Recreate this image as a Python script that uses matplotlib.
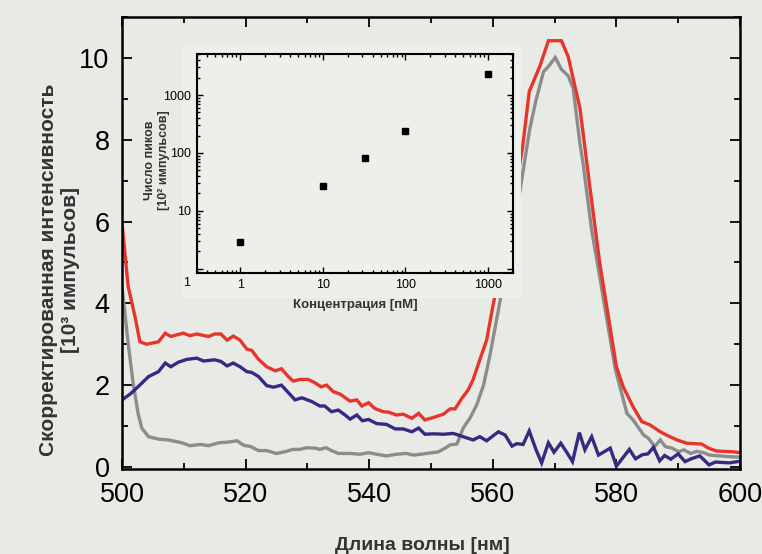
import matplotlib
matplotlib.use("Agg")
import matplotlib.pyplot as plt
from matplotlib.patches import Rectangle
from matplotlib.ticker import MultipleLocator, LogLocator, NullFormatter

plt.rcParams['font.family'] = ['Liberation Sans', 'DejaVu Sans']

# спектры (нм, 10^3 импульсов)
wl_red = [500, 501, 502.1, 502.9, 504, 505.9, 507, 507.9, 509.9, 511, 512.1, 514, 515, 516, 517, 518,
          519.1, 520.2, 521, 522.1, 523.4, 524.8, 525.8, 526.9, 527.7, 528.8, 530.1, 531.2, 532.2, 533.1,
          534.2, 535.3, 536.9, 538, 538.8, 539.9, 540.9, 542.3, 543.1, 544.4, 545.5, 546.9, 548, 549,
          550.4, 552, 553.1, 553.9, 555, 556, 556.8, 557.9, 559, 559.8, 561, 562, 563, 564, 564.8, 565.9,
          567.6, 569, 571.1, 572.2, 574.1, 575.7, 577.3, 580, 581.1, 582.7, 584.1, 585.4, 587.1, 588.1,
          589.8, 591.4, 593.8, 594.9, 596.2, 598.9, 600]
int_red = [5.96, 4.41, 3.68, 3.06, 3.0, 3.06, 3.27, 3.19, 3.27, 3.21, 3.25, 3.19, 3.25, 3.25, 3.1, 3.2,
           3.1, 2.88, 2.85, 2.63, 2.45, 2.35, 2.4, 2.21, 2.1, 2.14, 2.14, 2.06, 1.96, 2.0,
           1.84, 1.78, 1.61, 1.64, 1.49, 1.57, 1.43, 1.35, 1.34, 1.27, 1.29, 1.19, 1.31, 1.15,
           1.21, 1.29, 1.42, 1.42, 1.68, 1.88, 2.13, 2.62, 3.1, 3.76, 4.7, 5.5, 6.3, 7.1, 7.79, 9.18,
           9.79, 10.42, 10.42, 10.03, 8.77, 6.85, 4.99, 2.45, 1.96, 1.47, 1.11, 1.03, 0.86, 0.78,
           0.66, 0.58, 0.56, 0.46, 0.39, 0.37, 0.35]

wl_blue = [500, 501.3, 502.6, 504.3, 505.9, 507, 507.9, 509.1, 510.5, 512.1, 513.2, 515, 516, 517, 518,
           519.1, 520.2, 521, 522.1, 523.4, 524.5, 525.8, 526.9, 528, 529.1, 530.7, 532, 532.8, 533.9,
           535, 536.1, 536.9, 538, 538.9, 539.9, 541.2, 542.8, 544.2, 545.5, 546.9, 548, 549, 550.4,
           552, 553.6, 555.2, 556.8, 557.9, 559, 560.9, 562, 563.1, 563.9, 564.9, 565.9, 567, 567.9,
           569, 569.9, 571, 572, 572.9, 574, 574.9, 576, 577.1, 579, 580, 582.1, 583.1, 584.2, 585.1,
           586, 587, 587.8, 588.8, 590, 591.1, 592.1, 593.5, 595, 596, 598.3, 600]
int_blue = [1.64, 1.78, 1.96, 2.21, 2.33, 2.54, 2.45, 2.56, 2.63, 2.66, 2.59, 2.62, 2.58, 2.47, 2.54,
            2.45, 2.33, 2.31, 2.21, 1.99, 1.95, 2.0, 1.82, 1.64, 1.69, 1.6, 1.49, 1.49, 1.35,
            1.39, 1.27, 1.17, 1.27, 1.13, 1.16, 1.06, 1.04, 0.93, 0.93, 0.86, 0.95, 0.8, 0.81,
            0.8, 0.82, 0.74, 0.66, 0.74, 0.64, 0.86, 0.78, 0.51, 0.57, 0.55, 0.88, 0.42, 0.1,
            0.59, 0.36, 0.58, 0.35, 0.13, 0.84, 0.42, 0.74, 0.29, 0.46, 0.02, 0.43, 0.2, 0.3, 0.32,
            0.48, 0.15, 0.28, 0.19, 0.32, 0.13, 0.2, 0.27, 0.05, 0.12, 0.1, 0.14]

wl_gray = [500, 501, 501.8, 502.6, 503.2, 504.3, 505.9, 507.5, 509.7, 511, 512.7, 514, 515.6, 517.3,
           518.6, 519.7, 520.8, 522.1, 523.4, 525, 526.3, 527.7, 528.8, 529.9, 531.2, 532, 533, 533.9,
           535, 536.9, 538.5, 539.9, 541.2, 542.8, 544.4, 546, 547.2, 548.8, 551.2, 552.3, 553.1, 554.2,
           555.2, 556.3, 557.4, 558.5, 559.5, 560.6, 561.2, 562.5, 563.7, 564.8, 566, 567, 568.2, 569,
           570.1, 571.1, 572.2, 573, 574.1, 574.6, 576, 577.3, 579.8, 581.7, 582.7, 584.4, 585.2, 586.2,
           587.1, 587.9, 589, 590.1, 590.9, 592, 593, 594.1, 595.1, 596.8, 598.4, 600]
int_gray = [4.41, 3.02, 2.05, 1.31, 0.95, 0.74, 0.68, 0.66, 0.59, 0.52, 0.55, 0.52, 0.59, 0.61,
            0.64, 0.53, 0.5, 0.4, 0.4, 0.33, 0.37, 0.43, 0.43, 0.47, 0.46, 0.43, 0.47, 0.4,
            0.33, 0.33, 0.31, 0.35, 0.31, 0.27, 0.31, 0.33, 0.29, 0.32, 0.37, 0.46, 0.54, 0.56,
            0.95, 1.19, 1.52, 2.0, 2.7, 3.59, 4.08, 5.1, 6.1, 7.14, 8.28, 8.97, 9.66, 9.79,
            10.01, 9.72, 9.56, 9.26, 7.91, 7.43, 5.79, 4.65, 2.41, 1.31, 1.15, 0.78, 0.7, 0.5,
            0.66, 0.5, 0.46, 0.37, 0.42, 0.33, 0.38, 0.35, 0.29, 0.27, 0.25, 0.24]

# вставка: число пиков от концентрации
conc = [1, 10, 32, 100, 1000]
peaks = [2.9, 27, 82, 240, 2300]

BG = '#e8eae6'
PANEL = '#edefeb'
TXT = '#333333'

fig = plt.figure(figsize=(7.62, 5.54), dpi=100, facecolor=BG)
ax = fig.add_axes([122/762, 1-469/554, 618/762, 452/554], facecolor=BG)

ax.plot(wl_gray, int_gray, color='#8c8c8c', lw=2.4, solid_joinstyle='miter')
ax.plot(wl_blue, int_blue, color='#352a82', lw=2.4, solid_joinstyle='miter')
ax.plot(wl_red, int_red, color='#e8352b', lw=2.4, solid_joinstyle='miter')

ax.set_xlim(500, 600)
ax.set_ylim(-0.05, 11.0)
ax.xaxis.set_major_locator(MultipleLocator(20))
ax.xaxis.set_minor_locator(MultipleLocator(10))
ax.yaxis.set_major_locator(MultipleLocator(2))
ax.yaxis.set_minor_locator(MultipleLocator(1))
ax.tick_params(which='both', direction='in', top=True, right=True, width=1.3, colors='black',
               labelsize=19.5, pad=9)
ax.tick_params(which='major', length=7)
ax.tick_params(which='minor', length=4)
for s in ax.spines.values():
    s.set_linewidth(1.8)

fig.text(59/762, 1-270/554, 'Скорректированная интенсивность\n[10³ импульсов]',
         rotation=90, ha='center', va='center', fontsize=15, fontweight='bold',
         color=TXT, linespacing=1.2)
fig.text(422/762, 1-545/554, 'Длина волны [нм]', ha='center', va='center',
         fontsize=14, fontweight='bold', color=TXT)

# светлая подложка вставки, закрывает линии
ax.add_patch(Rectangle((183/762, 1-298/554), 338/762, 253/554, transform=fig.transFigure,
                       facecolor=PANEL, edgecolor='none', zorder=5, clip_on=False))

ins = fig.add_axes([197/762, 1-273/554, 316/762, 219/554], facecolor=PANEL)
ins.plot(conc, peaks, 's', color='black', ms=4)
ins.set_xscale('log')
ins.set_yscale('log')
ins.set_xlim(0.3, 2000)
ins.set_ylim(0.85, 5100)
ins.xaxis.set_minor_locator(LogLocator(base=10, subs=range(2, 10), numticks=10))
ins.yaxis.set_minor_locator(LogLocator(base=10, subs=range(2, 10), numticks=10))
ins.set_xticks([1, 10, 100, 1000])
ins.set_xticklabels(['1', '10', '100', '1000'])
ins.set_yticks([1, 10, 100, 1000])
ins.set_yticklabels(['', '10', '100', '1000'])
ins.xaxis.set_minor_formatter(NullFormatter())
ins.yaxis.set_minor_formatter(NullFormatter())
ins.tick_params(which='both', direction='in', top=True, right=True, width=1.0, labelsize=9)
ins.tick_params(which='major', length=4, pad=4)
ins.tick_params(which='minor', length=2)
for s in ins.spines.values():
    s.set_linewidth(1.5)
ins.set_xlabel('Концентрация [пМ]', fontsize=9.5, fontweight='bold', color=TXT, labelpad=6)
fig.text(157/762, 1-160/554, 'Число пиков\n[10² импульсов]', rotation=90, ha='center', va='center',
         fontsize=9, fontweight='bold', color=TXT, linespacing=1.15)
fig.text(187/762, 1-283/554, '1', ha='center', va='center', fontsize=9)

fig.savefig('out.png', dpi=100, facecolor=BG)
